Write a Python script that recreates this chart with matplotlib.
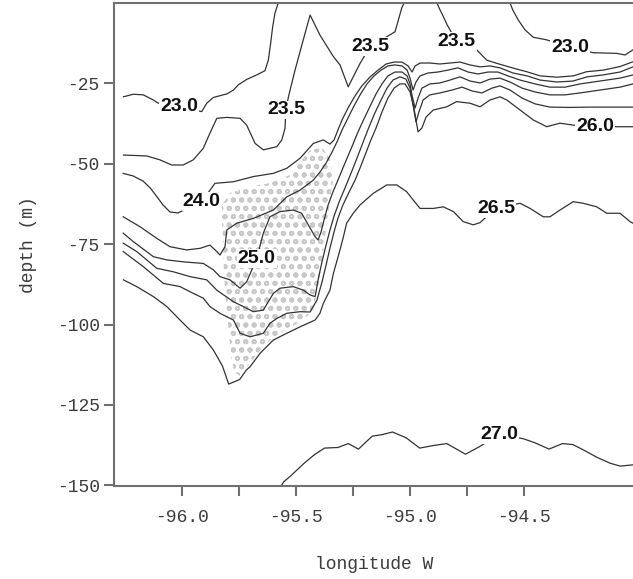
import matplotlib
matplotlib.use("Agg")
import matplotlib.pyplot as plt

plt.rcParams['axes.unicode_minus'] = False
plt.rcParams['hatch.linewidth'] = 1.3

# contour lines (longitude W, depth m)
c230a_lon = [-96.255, -96.212, -96.168, -96.124, -96.102, -96.011, -95.912, -95.890, -95.861, -95.802,
             -95.773, -95.752, -95.715, -95.671, -95.635, -95.620, -95.610, -95.601, -95.591, -95.581, -95.577]
c230a_dep = [-29.2, -28.4, -28.6, -30.2, -31.2, -32.3, -33.8, -31.2, -29.4, -28.3,
             -27.1, -25.5, -23.8, -22.4, -21.1, -17.8, -12.6, -7.4, -3.2, -1.0, 0.0]

c235a_lon = [-96.255, -96.153, -96.095, -96.043, -95.993, -95.949, -95.905, -95.876, -95.846, -95.802,
             -95.744, -95.715, -95.678, -95.642, -95.583, -95.561, -95.547, -95.543, -95.532, -95.503,
             -95.467, -95.437, -95.394, -95.335, -95.306, -95.270, -95.248, -95.218, -95.174, -95.065,
             -95.050, -95.036, -95.025]
c235a_dep = [-47.3, -47.6, -48.8, -50.4, -50.4, -48.8, -45.2, -40.5, -35.9, -35.6,
             -35.9, -38.0, -43.7, -45.7, -44.7, -42.6, -39.0, -33.3, -29.2, -20.9,
             -11.5, -3.8, -10.0, -16.7, -19.3, -26.1, -23.0, -18.8, -13.6, -9.0,
             -5.3, -1.7, 0.0]

c235b_lon = [-94.881, -94.871, -94.853, -94.836, -94.794, -94.707, -94.663, -94.619, -94.546, -94.488,
             -94.429, -94.356, -94.284, -94.225, -94.152, -94.079, -94.022]
c235b_dep = [0.0, -1.7, -4.3, -6.9, -12.1, -14.6, -17.8, -18.8, -20.3, -21.4,
             -22.7, -23.1, -22.7, -21.4, -20.9, -19.8, -18.3]

c230b_lon = [-94.561, -94.549, -94.525, -94.495, -94.459, -94.400, -94.298, -94.196, -94.093, -94.057, -94.022]
c230b_dep = [0.0, -2.2, -5.3, -8.4, -10.7, -11.5, -13.9, -15.5, -15.7, -16.2, -14.6]

c240_lon = [-96.256, -96.213, -96.169, -96.138, -96.108, -96.082, -96.051, -96.016, -95.912, -95.854,
            -95.773, -95.686, -95.598, -95.539, -95.481, -95.423, -95.379, -95.350, -95.332, -95.315,
            -95.297, -95.271, -95.240, -95.210, -95.174, -95.139, -95.104, -95.069, -95.034, -95.008,
            -94.990, -94.977, -94.955, -94.912, -94.868, -94.824, -94.780, -94.736, -94.692, -94.649,
            -94.605, -94.548, -94.486, -94.429, -94.355, -94.285, -94.223, -94.153, -94.079, -94.022]
c240_dep = [-53.0, -53.8, -55.4, -57.5, -60.3, -62.8, -65.0, -65.3, -61.8, -56.1,
            -55.6, -54.0, -53.0, -51.4, -48.3, -43.7, -42.6, -43.9, -42.6, -39.5,
            -36.4, -32.7, -28.9, -25.8, -23.0, -20.9, -19.0, -18.4, -18.4, -19.6,
            -21.5, -19.6, -18.7, -18.7, -19.0, -18.7, -18.4, -19.3, -19.9, -19.6,
            -20.2, -21.8, -22.7, -24.0, -24.6, -24.3, -23.0, -22.4, -21.5, -19.9]

c245_lon = [-96.256, -96.182, -96.109, -96.051, -95.978, -95.919, -95.876, -95.846, -95.832, -95.810,
            -95.802, -95.759, -95.686, -95.598, -95.539, -95.481, -95.423, -95.394, -95.367, -95.341,
            -95.319, -95.297, -95.271, -95.245, -95.218, -95.188, -95.157, -95.126, -95.096, -95.065,
            -95.034, -95.012, -94.999, -94.986, -94.973, -94.955, -94.920, -94.877, -94.833, -94.789,
            -94.745, -94.701, -94.657, -94.614, -94.570, -94.517, -94.451, -94.386, -94.320, -94.254,
            -94.167, -94.079, -94.022]
c245_dep = [-66.5, -69.6, -73.2, -75.8, -76.8, -76.3, -75.3, -77.3, -78.4, -75.8,
            -70.6, -68.5, -67.0, -64.4, -60.3, -58.2, -55.1, -52.6, -49.8, -46.4,
            -43.2, -39.5, -35.8, -32.1, -28.6, -25.2, -22.7, -20.9, -19.6, -19.3,
            -19.6, -20.9, -23.4, -27.1, -24.6, -22.7, -21.8, -21.5, -20.9, -20.2,
            -21.5, -22.1, -21.5, -21.5, -22.7, -24.0, -25.2, -26.2, -26.2, -25.2,
            -24.3, -23.4, -22.4]

c250_lon = [-96.256, -96.212, -96.124, -96.065, -95.993, -95.905, -95.861, -95.832, -95.788, -95.744,
            -95.715, -95.671, -95.642, -95.613, -95.569, -95.511, -95.474, -95.445, -95.415, -95.402,
            -95.389, -95.376, -95.358, -95.337, -95.315, -95.293, -95.271, -95.249, -95.227, -95.201,
            -95.174, -95.148, -95.122, -95.096, -95.065, -95.034, -95.012, -94.999, -94.990, -94.977,
            -94.964, -94.947, -94.912, -94.868, -94.824, -94.780, -94.736, -94.692, -94.649, -94.605,
            -94.561, -94.508, -94.451, -94.386, -94.320, -94.254, -94.167, -94.079, -94.022]
c250_dep = [-71.6, -74.2, -78.9, -79.9, -80.5, -81.0, -83.0, -85.1, -86.1, -88.7,
            -86.7, -79.4, -71.6, -66.5, -64.9, -64.4, -65.4, -69.0, -72.7, -73.7,
            -71.2, -67.5, -62.8, -58.8, -55.1, -51.3, -47.6, -43.9, -40.1, -36.1,
            -32.1, -28.3, -25.2, -22.7, -21.5, -21.5, -22.7, -25.2, -28.9, -32.7,
            -29.6, -26.5, -25.2, -24.9, -24.0, -23.0, -24.3, -24.9, -23.7, -23.4,
            -24.6, -26.5, -27.7, -28.6, -28.6, -28.0, -27.1, -26.2, -25.2]

c255_lon = [-96.256, -96.197, -96.109, -96.036, -95.963, -95.890, -95.846, -95.773, -95.730, -95.686,
            -95.642, -95.598, -95.569, -95.511, -95.467, -95.437, -95.415, -95.402, -95.385, -95.367,
            -95.350, -95.332, -95.310, -95.288, -95.266, -95.245, -95.223, -95.201, -95.179, -95.153,
            -95.126, -95.100, -95.074, -95.043, -95.017, -94.999, -94.986, -94.973, -94.960, -94.942,
            -94.912, -94.868, -94.815, -94.771, -94.727, -94.684, -94.640, -94.605, -94.561, -94.508,
            -94.451, -94.386, -94.298, -94.210, -94.123, -94.022]
c255_dep = [-74.7, -77.3, -82.5, -83.6, -85.1, -86.1, -89.3, -92.9, -94.4, -96.0,
            -95.5, -90.3, -88.7, -88.2, -89.3, -90.8, -91.3, -86.1, -80.5, -75.3,
            -70.6, -66.3, -61.9, -58.2, -54.4, -50.7, -46.7, -42.6, -38.6, -34.2,
            -30.2, -26.5, -24.0, -23.0, -23.7, -26.5, -31.7, -37.0, -33.9, -30.2,
            -28.6, -28.0, -27.1, -26.2, -27.4, -28.0, -26.5, -25.8, -27.1, -29.6,
            -31.4, -32.4, -32.5, -32.4, -32.4, -32.4]

c260_lon = [-96.256, -96.168, -96.080, -96.007, -95.949, -95.905, -95.876, -95.832, -95.773, -95.744,
            -95.700, -95.642, -95.613, -95.583, -95.539, -95.481, -95.437, -95.407, -95.385, -95.367,
            -95.350, -95.332, -95.315, -95.293, -95.266, -95.240, -95.218, -95.196, -95.174, -95.148,
            -95.122, -95.096, -95.069, -95.043, -95.021, -94.999, -94.982, -94.964, -94.947, -94.929,
            -94.897, -94.838, -94.795, -94.736, -94.692, -94.649, -94.605, -94.575, -94.517, -94.459,
            -94.400, -94.342, -94.284, -94.189, -94.093, -94.022]
c260_dep = [-77.3, -82.0, -87.2, -88.2, -90.3, -91.8, -94.4, -96.5, -98.6, -102.7,
            -103.8, -102.7, -99.6, -98.1, -96.5, -96.0, -96.1, -92.4, -86.8, -81.5,
            -76.2, -71.2, -66.9, -62.8, -58.8, -55.1, -51.3, -47.3, -43.2, -38.9,
            -33.9, -29.6, -26.5, -25.2, -25.2, -27.7, -32.7, -40.1, -38.9, -35.5,
            -33.3, -32.3, -30.7, -31.2, -32.3, -30.2, -29.2, -30.2, -33.3, -36.4,
            -38.5, -37.4, -38.0, -38.3, -38.5, -38.5]

c265_lon = [-96.255, -96.197, -96.124, -96.065, -96.007, -95.963, -95.905, -95.861, -95.821, -95.794,
            -95.746, -95.716, -95.700, -95.656, -95.598, -95.539, -95.481, -95.415, -95.394, -95.379,
            -95.350, -95.335, -95.306, -95.291, -95.277, -95.248, -95.218, -95.160, -95.101, -95.057,
            -95.014, -94.985, -94.955, -94.897, -94.853, -94.809, -94.766, -94.722, -94.692, -94.622,
            -94.517, -94.473, -94.415, -94.386, -94.342, -94.284, -94.240, -94.181, -94.137, -94.079,
            -94.035, -94.022]
c265_dep = [-86.1, -88.2, -91.3, -94.4, -98.6, -101.7, -103.8, -107.9, -112.9, -118.5,
            -117.1, -114.1, -113.1, -108.9, -104.8, -102.7, -100.7, -98.6, -96.5, -93.4,
            -89.3, -84.1, -76.8, -72.7, -68.5, -65.4, -62.8, -59.2, -56.6, -56.6,
            -58.7, -61.3, -63.9, -63.9, -63.4, -64.9, -68.0, -69.0, -68.3, -63.8,
            -62.3, -63.9, -66.5, -66.5, -64.4, -61.8, -62.3, -63.4, -65.4, -65.4,
            -68.0, -68.5]

c270_lon = [-95.565, -95.553, -95.523, -95.463, -95.419, -95.374, -95.314, -95.270, -95.225, -95.165,
            -95.121, -95.076, -95.016, -94.957, -94.897, -94.838, -94.756, -94.696, -94.607, -94.502,
            -94.450, -94.390, -94.331, -94.286, -94.241, -94.182, -94.122, -94.078, -94.021]
c270_dep = [-150.3, -148.9, -147.1, -143.1, -140.5, -138.4, -138.2, -137.0, -138.7, -134.7,
            -134.2, -133.4, -135.2, -138.4, -137.6, -137.0, -140.3, -138.0, -134.1, -135.5,
            -136.8, -138.7, -137.0, -137.3, -138.9, -141.2, -143.1, -144.0, -143.6]

# stippled patch
stip_lon = [-95.823, -95.788, -95.700, -95.613, -95.525, -95.481, -95.437, -95.385, -95.350, -95.337,
            -95.350, -95.367, -95.385, -95.402, -95.429, -95.481, -95.547, -95.613, -95.665, -95.709,
            -95.744, -95.770, -95.784, -95.792, -95.805, -95.814, -95.819, -95.823]
stip_dep = [-62.8, -59.1, -57.2, -56.0, -53.5, -49.5, -45.7, -45.1, -48.2, -55.1,
            -61.3, -70.6, -79.9, -89.3, -96.1, -99.2, -101.7, -104.8, -108.8, -112.9,
            -116.0, -114.7, -109.5, -103.2, -93.9, -84.6, -75.3, -67.5]

label_text = ['23.0', '23.5', '23.5', '23.5', '23.0', '24.0', '25.0', '26.0', '26.5', '27.0']
label_lon = [-96.011, -95.543, -95.174, -94.794, -94.298, -95.912, -95.671, -94.189, -94.622, -94.607]
label_dep = [-32.3, -33.3, -13.6, -12.1, -13.9, -61.8, -79.4, -38.3, -63.8, -134.1]

xticks = [-96.0, -95.5, -95.0, -94.5]
xminor = [-95.75, -95.25, -94.75]
yticks = [-25, -50, -75, -100, -125, -150]

fig = plt.figure(figsize=(6.33, 5.79), dpi=100)
ax = fig.add_axes([0.1806, 0.1598, 0.8194, 0.8342])

ax.fill(stip_lon, stip_dep, facecolor='none', edgecolor='#c8c8c8', hatch='oo', linewidth=0, zorder=1)

lines = [(c230a_lon, c230a_dep), (c235a_lon, c235a_dep), (c235b_lon, c235b_dep), (c230b_lon, c230b_dep),
         (c240_lon, c240_dep), (c245_lon, c245_dep), (c250_lon, c250_dep), (c255_lon, c255_dep),
         (c260_lon, c260_dep), (c265_lon, c265_dep), (c270_lon, c270_dep)]
for lo, de in lines:
    ax.plot(lo, de, color='#333333', lw=0.9, zorder=2)

for t, x, y in zip(label_text, label_lon, label_dep):
    ax.text(x, y, t, ha='center', va='center', fontsize=14, fontweight='bold',
            family='Liberation Sans', color='#111111', zorder=3,
            bbox=dict(boxstyle='square,pad=0.05', fc='white', ec='none'))

ax.set_xlim(-96.295, -94.022)
ax.set_ylim(-150.33, -0.19)
ax.set_xticks(xticks)
ax.set_xticklabels(['%.1f' % v for v in xticks])
ax.set_xticks(xminor, minor=True)
ax.set_yticks(yticks)
ax.set_yticklabels([str(v) for v in yticks])

for s in ['left', 'bottom', 'top']:
    ax.spines[s].set_color('#707070')
    ax.spines[s].set_linewidth(1.5)
ax.spines['right'].set_visible(False)

ax.tick_params(which='both', direction='out', length=7, width=1.5, color='#707070',
               labelcolor='#3c3c3c', labelsize=13)
ax.tick_params(axis='x', pad=9)
for lab in ax.get_xticklabels() + ax.get_yticklabels():
    lab.set_family('Liberation Mono')

ax.set_xlabel('longitude W', family='Liberation Mono', fontsize=13, color='#3c3c3c', labelpad=22)
ax.set_ylabel('depth (m)', family='Liberation Mono', fontsize=13, color='#3c3c3c', labelpad=14)

fig.savefig('out.png', dpi=100)
